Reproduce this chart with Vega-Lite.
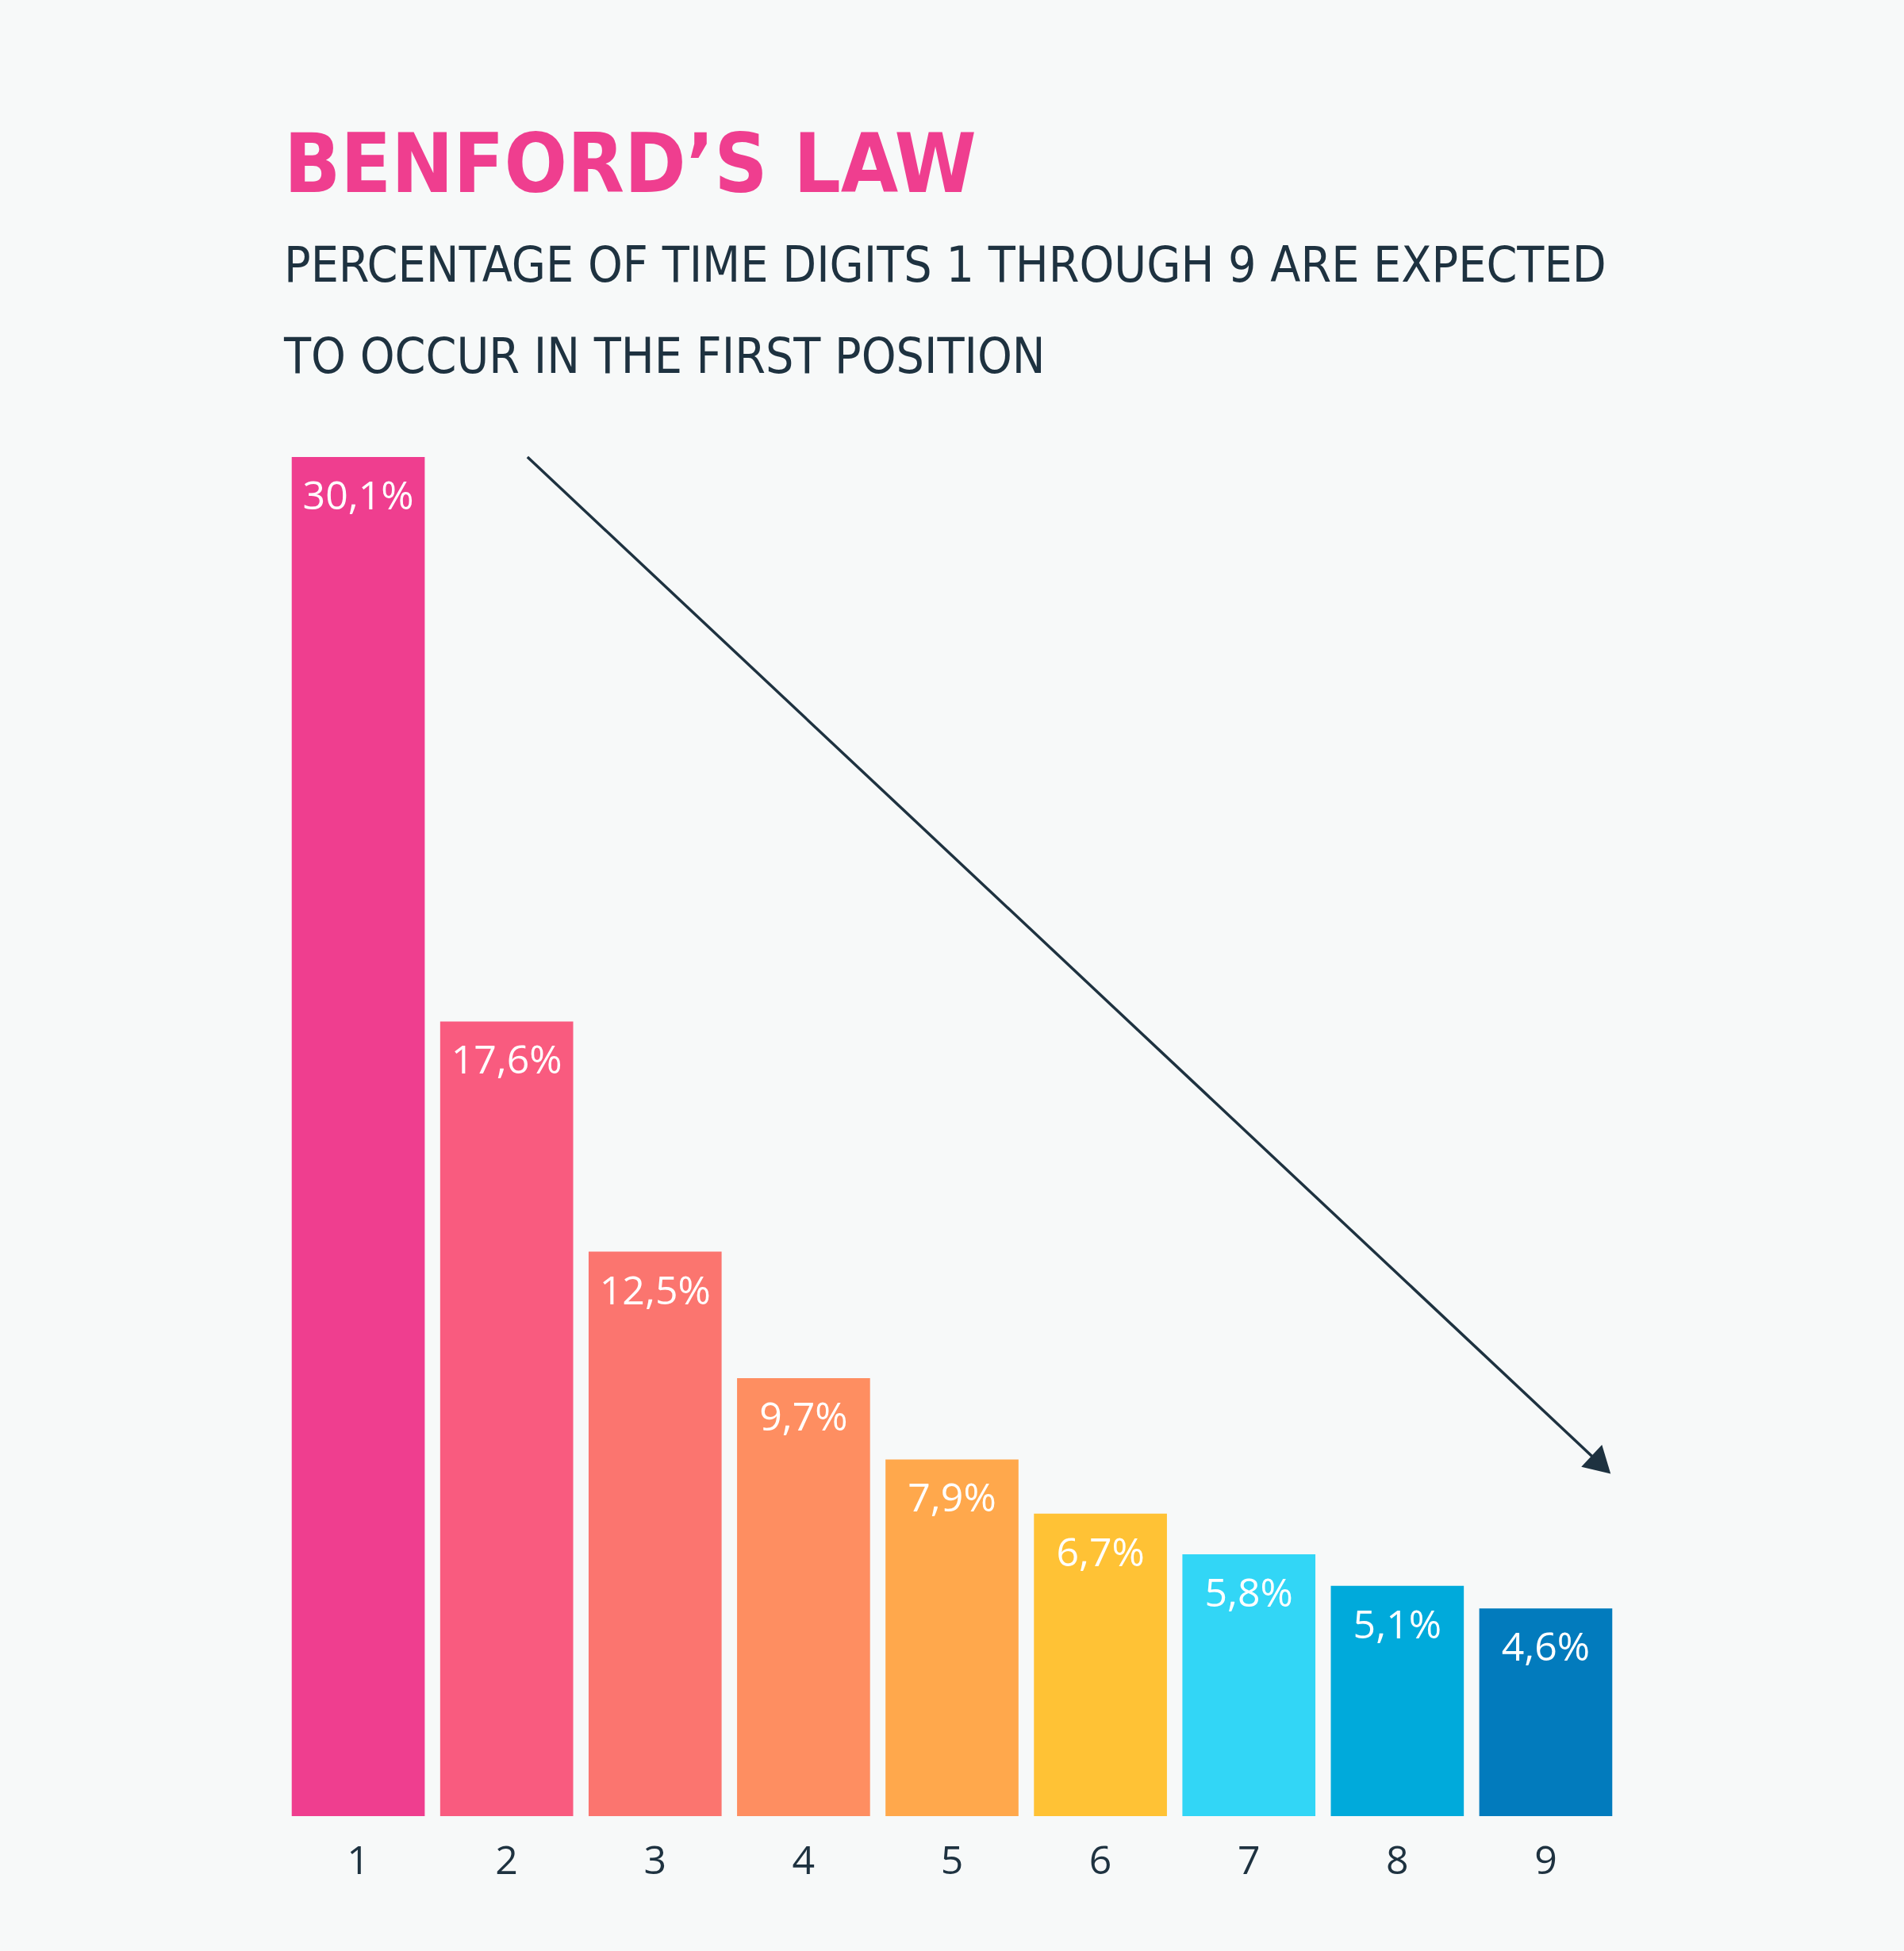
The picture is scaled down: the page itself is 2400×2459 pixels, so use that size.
{
  "$schema": "https://vega.github.io/schema/vega-lite/v6.json",
  "autosize": "none",
  "width": 1684,
  "height": 1713,
  "padding": {"left": 358, "top": 576, "right": 358, "bottom": 170},
  "background": "#f7f9f9",
  "config": {"view": {"stroke": null}},
  "title": {
    "text": "BENFORD’S LAW",
    "subtitle": ["PERCENTAGE OF TIME DIGITS 1 THROUGH 9 ARE EXPECTED", "TO OCCUR IN THE FIRST POSITION"],
    "anchor": "start",
    "frame": "group",
    "font": "DejaVu Sans Condensed, sans-serif",
    "fontSize": 104,
    "fontWeight": "bold",
    "color": "#ef3e8f",
    "subtitleFont": "DejaVu Sans Condensed, sans-serif",
    "subtitleFontSize": 62,
    "subtitleFontWeight": "normal",
    "subtitleColor": "#1e3240",
    "subtitleLineHeight": 115,
    "subtitlePadding": 42,
    "offset": 91
  },
  "datasets": {
    "benford": [
      {"digit": 1, "pct": 30.1, "label": "30,1%"},
      {"digit": 2, "pct": 17.6, "label": "17,6%"},
      {"digit": 3, "pct": 12.5, "label": "12,5%"},
      {"digit": 4, "pct": 9.7, "label": "9,7%"},
      {"digit": 5, "pct": 7.9, "label": "7,9%"},
      {"digit": 6, "pct": 6.7, "label": "6,7%"},
      {"digit": 7, "pct": 5.8, "label": "5,8%"},
      {"digit": 8, "pct": 5.1, "label": "5,1%"},
      {"digit": 9, "pct": 4.6, "label": "4,6%"}
    ],
    "arrow": [
      {"xs": 2.14, "ys": 30.1, "xe": 9.373, "ye": 7.78}
    ]
  },
  "resolve": {"scale": {"x": "independent"}},
  "layer": [
    {
      "data": {"name": "benford"},
      "mark": {"type": "bar"},
      "encoding": {
        "x": {
          "field": "digit", "type": "ordinal",
          "scale": {"paddingInner": 0.104, "paddingOuter": 0.052},
          "axis": {
            "title": null, "domain": false, "ticks": false, "labelAngle": 0,
            "labelFont": "Open Sans", "labelFontSize": 50, "labelColor": "#1e3240",
            "labelBaseline": "alphabetic", "labelPadding": 72
          }
        },
        "y": {
          "field": "pct", "type": "quantitative",
          "scale": {"domain": [0, 30.1], "nice": false},
          "axis": null
        },
        "color": {
          "field": "digit", "type": "ordinal",
          "scale": {
            "domain": [1, 2, 3, 4, 5, 6, 7, 8, 9],
            "range": ["#ef3e8f", "#f95b7f", "#fb756f", "#fe8e61", "#ffa84c", "#ffc235", "#32d6f6", "#00aadb", "#027bbd"]
          },
          "legend": null
        }
      }
    },
    {
      "data": {"name": "benford"},
      "mark": {"type": "text", "font": "Open Sans", "fontSize": 50, "color": "#ffffff", "baseline": "alphabetic", "dy": 66},
      "encoding": {
        "x": {"field": "digit", "type": "ordinal", "scale": {"paddingInner": 0.104, "paddingOuter": 0.052}, "axis": null},
        "y": {"field": "pct", "type": "quantitative"},
        "text": {"field": "label"}
      }
    },
    {
      "data": {"name": "arrow"},
      "layer": [
        {
          "mark": {"type": "rule", "stroke": "#1e3240", "strokeWidth": 3.5},
          "encoding": {
            "x": {"field": "xs", "type": "quantitative", "scale": {"domain": [0.5, 9.5], "nice": false, "zero": false}, "axis": null},
            "x2": {"field": "xe"},
            "y": {"field": "ys", "type": "quantitative"},
            "y2": {"field": "ye"}
          }
        },
        {
          "mark": {"type": "point", "shape": "triangle-right", "filled": true, "color": "#1e3240", "opacity": 1, "size": 1444, "angle": 43.2},
          "encoding": {
            "x": {"field": "xe", "type": "quantitative", "scale": {"domain": [0.5, 9.5], "nice": false, "zero": false}, "axis": null},
            "y": {"field": "ye", "type": "quantitative"}
          }
        }
      ]
    }
  ]
}
